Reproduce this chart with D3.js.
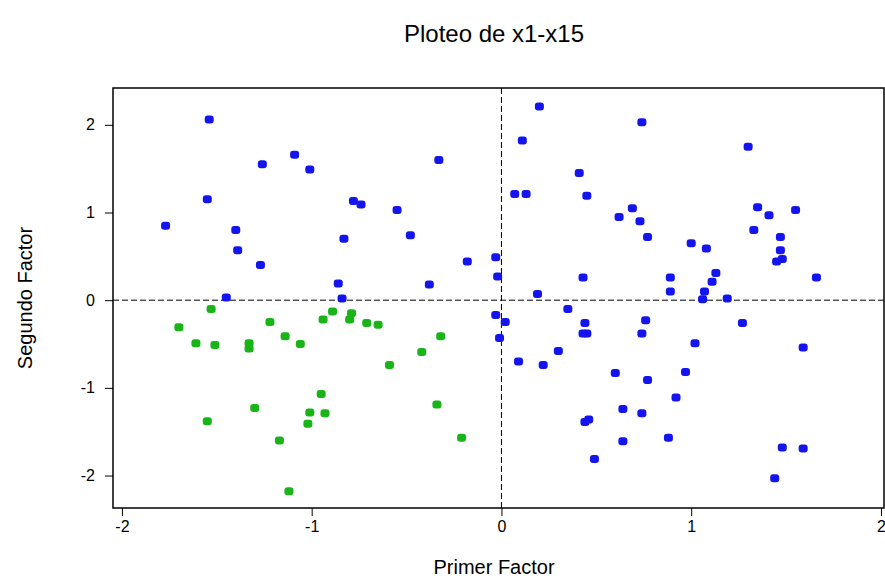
<!DOCTYPE html>
<html>
<head>
<meta charset="utf-8">
<script src="https://cdn.jsdelivr.net/npm/d3@7"></script>
<style>
  body { margin: 0; background: #fff; }
  text { font-family: Arial, "Liberation Sans", sans-serif; }
  .axis path, .axis line { stroke: #000; }
  .axis text { font-size: 16px; fill: #000; font-family: Arial, "Liberation Sans", sans-serif; }
</style>
</head>
<body>
<div id="chart"></div>
<script>

// Group 1 (blue) factor scores
var blueX = [-1.54, -1.09, -1.26, -1.01, -0.33, -1.55, -0.78, -0.74, -0.55, -1.77, -1.40, -0.83, -0.48, -1.39, -1.27, -0.18, -0.03, -0.02, -0.86, -0.38, -1.45, -0.84,
  0.20, 0.74, 0.11, 1.30, 0.41, 0.07, 0.13, 0.45, 0.69, 0.62, 0.73, 1.35, 1.41, 1.55, 0.77, 1.33, 1.47, 1.00, 1.08, 1.47, 1.45, 1.48, 0.43, 0.89, 1.13, 1.11, 1.66, 0.19, 0.89, 1.07, 1.06, 1.19,
  -0.03, 0.02, -0.01, 0.35, 0.44, 0.45, 0.43, 0.76, 0.74, 1.27, 1.02, 1.59, 0.30, 0.09, 0.22, 0.60, 0.77, 0.97, 0.92, 0.64, 0.74, 0.46, 0.44, 0.64, 0.88, 1.48, 1.59, 0.49, 1.44]
var blueY = [2.06, 1.66, 1.55, 1.49, 1.60, 1.15, 1.13, 1.09, 1.03, 0.85, 0.80, 0.70, 0.74, 0.57, 0.40, 0.44, 0.49, 0.27, 0.19, 0.18, 0.03, 0.02,
  2.21, 2.03, 1.82, 1.75, 1.45, 1.21, 1.21, 1.19, 1.05, 0.95, 0.90, 1.06, 0.97, 1.03, 0.72, 0.80, 0.72, 0.65, 0.59, 0.57, 0.44, 0.47, 0.26, 0.26, 0.31, 0.21, 0.26, 0.07, 0.10, 0.10, 0.01, 0.02,
  -0.17, -0.25, -0.43, -0.10, -0.26, -0.38, -0.38, -0.23, -0.38, -0.26, -0.49, -0.54, -0.58, -0.70, -0.74, -0.83, -0.91, -0.82, -1.11, -1.24, -1.29, -1.36, -1.39, -1.61, -1.57, -1.68, -1.69, -1.81, -2.03]

// Group 2 (green) factor scores
var greenX = [-1.53, -1.70, -1.61, -1.51, -1.33, -1.33, -1.22, -1.14, -1.06, -0.94, -0.89, -0.79, -0.80, -0.71, -0.65, -0.32, -0.42, -0.59, -0.95, -1.30, -1.01, -0.93, -1.02, -1.55, -1.17, -0.34, -0.21, -1.12]
var greenY = [-0.10, -0.31, -0.49, -0.51, -0.49, -0.55, -0.25, -0.41, -0.50, -0.22, -0.13, -0.15, -0.22, -0.26, -0.28, -0.41, -0.59, -0.74, -1.07, -1.23, -1.28, -1.29, -1.41, -1.38, -1.60, -1.19, -1.57, -2.18]

var xTicks = [-2, -1, 0, 1, 2]
var yTicks = [-2, -1, 0, 1, 2]

var width = 885, height = 579
var margin = { top: 88, right: 1, bottom: 71, left: 113 }
var innerW = width - margin.left - margin.right
var innerH = height - margin.top - margin.bottom

var svg = d3.select("#chart").append("svg")
  .attr("width", width)
  .attr("height", height)

var g = svg.append("g")
  .attr("transform", "translate(" + margin.left + "," + margin.top + ")")

var xScale = d3.scaleLinear().domain([-2.047, 2.016]).range([0, innerW])
var yScale = d3.scaleLinear().domain([-2.37, 2.42]).range([innerH, 0])

// frame
g.append("rect")
  .attr("width", innerW).attr("height", innerH)
  .attr("fill", "none").attr("stroke", "#000").attr("stroke-width", 1.5)

// zero reference lines
g.append("line")
  .attr("x1", xScale(0)).attr("x2", xScale(0))
  .attr("y1", 0).attr("y2", innerH)
  .attr("stroke", "#000").attr("stroke-dasharray", "6,3")
g.append("line")
  .attr("x1", 0).attr("x2", innerW)
  .attr("y1", yScale(0)).attr("y2", yScale(0))
  .attr("stroke", "#000").attr("stroke-dasharray", "6,3")

var xAxis = d3.axisBottom(xScale).tickValues(xTicks).tickFormat(String).tickSize(8).tickPadding(5)
var yAxis = d3.axisLeft(yScale).tickValues(yTicks).tickFormat(String).tickSize(8).tickPadding(10)

g.append("g").attr("class", "axis")
  .attr("transform", "translate(0," + innerH + ")")
  .call(xAxis)
  .call(function(s) { s.select(".domain").remove() })

g.append("g").attr("class", "axis")
  .call(yAxis)
  .call(function(s) { s.select(".domain").remove() })

function drawPoints(xs, ys, color) {
  g.selectAll(null)
    .data(xs.map(function(d, i) { return [d, ys[i]] }))
    .enter()
    .append("rect")
    .attr("x", function(d) { return xScale(d[0]) - 4.5 })
    .attr("y", function(d) { return yScale(d[1]) - 4 })
    .attr("width", 9).attr("height", 8)
    .attr("rx", 3)
    .attr("fill", color)
}

drawPoints(blueX, blueY, "#1414ee")
drawPoints(greenX, greenY, "#18b418")

svg.append("text")
  .attr("x", 494).attr("y", 42)
  .attr("text-anchor", "middle")
  .attr("font-size", 24)
  .text("Ploteo de x1-x15")

svg.append("text")
  .attr("x", 494).attr("y", 574)
  .attr("text-anchor", "middle")
  .attr("font-size", 20)
  .text("Primer Factor")

svg.append("text")
  .attr("transform", "translate(32,298) rotate(-90)")
  .attr("text-anchor", "middle")
  .attr("font-size", 20)
  .text("Segundo Factor")

</script>
</body>
</html>
